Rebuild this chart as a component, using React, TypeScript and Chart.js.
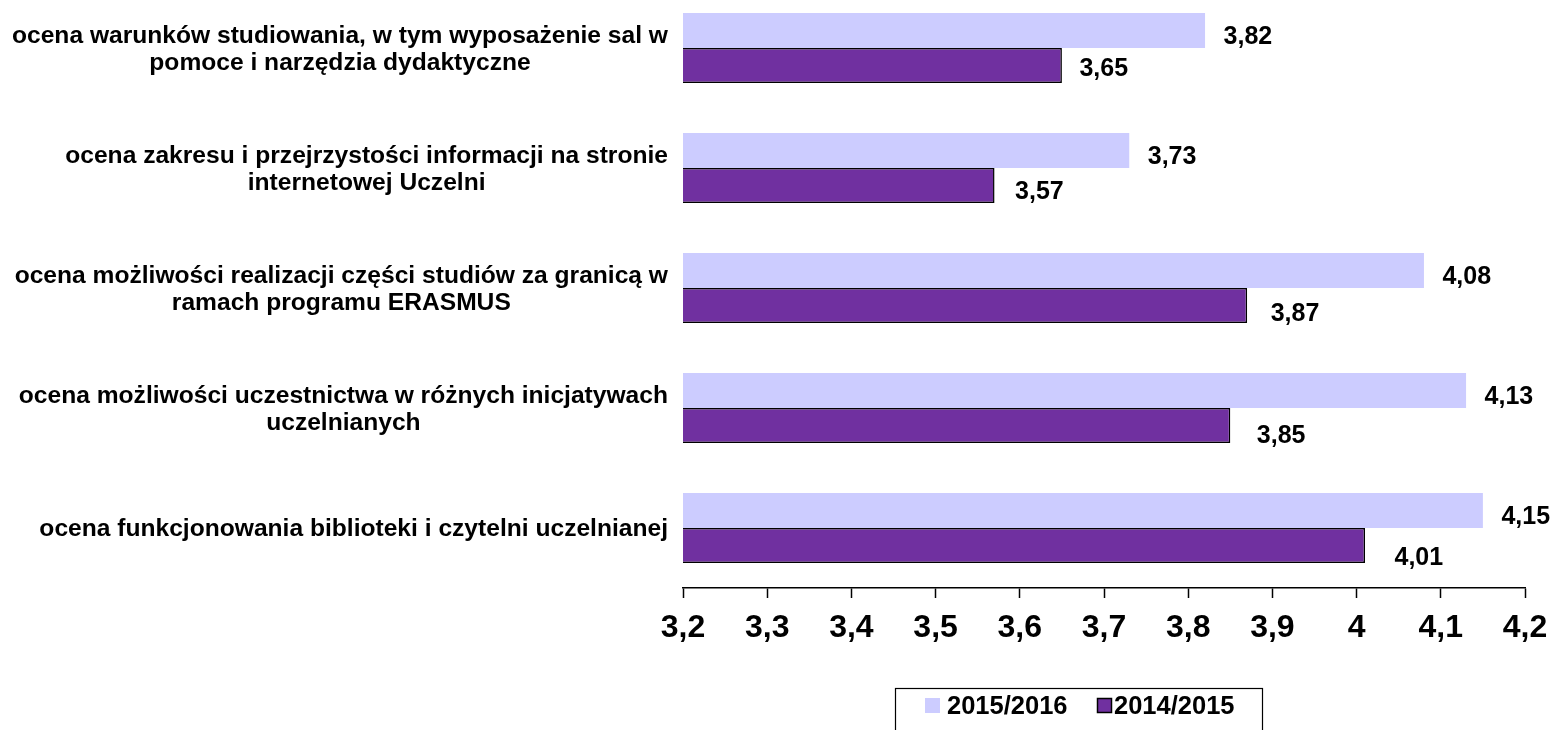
import React, { useEffect, useRef } from "react";
import { Chart, registerables } from "chart.js";

Chart.register(...registerables);

const categories: string[][] = [
  ["ocena warunków studiowania, w tym wyposażenie sal w", "pomoce i narzędzia dydaktyczne"],
  ["ocena zakresu i przejrzystości informacji na stronie", "internetowej Uczelni"],
  ["ocena możliwości realizacji części studiów za granicą w", "ramach programu ERASMUS"],
  ["ocena możliwości uczestnictwa w różnych inicjatywach", "uczelnianych"],
  ["ocena funkcjonowania biblioteki i czytelni uczelnianej"],
];
const seriesNames = ["2015/2016", "2014/2015"];
const values2016 = [3.82, 3.73, 4.08, 4.13, 4.15];
const values2015 = [3.65, 3.57, 3.87, 3.85, 4.01];
const axisMin = 3.2;
const axisMax = 4.2;
const axisStep = 0.1;

const FONT = '"Liberation Sans", Arial, sans-serif';
const SHIFT = 12; // canvas is shifted up by this many px
const CANVAS_W = 1600;
const LIGHT = "#CCCCFF";
const DARK = "#7030A0";

const fmt = (v: number, d: number) => {
  const r = Math.round(v * Math.pow(10, d)) / Math.pow(10, d);
  return String(r).replace(".", ",");
};

const decorPlugin = {
  id: "decor",
  afterDatasetsDraw(chart: any) {
    const ctx = chart.ctx;
    ctx.save();
    // category labels
    const yScale = chart.scales.y;
    ctx.font = `bold 24.6px ${FONT}`;
    ctx.fillStyle = "#000";
    ctx.textBaseline = "middle";
    ctx.textAlign = "center";
    const rightEdge = 668;
    const lh = 27;
    categories.forEach((lines, i) => {
      const yc = yScale.getPixelForValue(i) + 1.5;
      const w = Math.max(...lines.map((l) => ctx.measureText(l).width));
      const cx = rightEdge - w / 2;
      const n = lines.length;
      lines.forEach((line, j) => {
        ctx.fillText(line, cx, yc + (j - (n - 1) / 2) * lh);
      });
    });
    // data labels
    ctx.font = `bold 25px ${FONT}`;
    ctx.textAlign = "left";
    chart.data.datasets.forEach((ds: any, di: number) => {
      const meta = chart.getDatasetMeta(di);
      meta.data.forEach((bar: any, i: number) => {
        const dx = di === 0 ? 18.5 : 17.5 + 3 * i;
        const dy = di === 0 ? 7 : 4 + 2.2 * i;
        ctx.fillText(fmt(ds.data[i], 2), bar.x + dx, bar.y + dy);
      });
    });
    // legend
    const top = 688 + SHIFT;
    ctx.strokeStyle = "#000";
    ctx.lineWidth = 1.2;
    ctx.strokeRect(895.5, top + 0.5, 367, 80);
    ctx.font = `bold 25.5px ${FONT}`;
    const ty = 706 + SHIFT;
    const items = [
      { box: 925, text: 947, fill: LIGHT, border: false },
      { box: 1097, text: 1114, fill: DARK, border: true },
    ];
    items.forEach((it, k) => {
      ctx.fillStyle = it.fill;
      ctx.fillRect(it.box, ty - 8, 15, 15);
      if (it.border) {
        ctx.strokeStyle = "#000";
        ctx.lineWidth = 1.5;
        ctx.strokeRect(it.box + 0.5, ty - 7.5, 14, 14);
      }
      ctx.fillStyle = "#000";
      ctx.fillText(seriesNames[k], it.text, ty + 1);
    });
    ctx.restore();
  },
};

export default function App() {
  const ref = useRef<HTMLCanvasElement | null>(null);
  useEffect(() => {
    if (!ref.current) return;
    const chart = new Chart(ref.current, {
      type: "bar",
      data: {
        labels: categories.map((c) => c.join(" ")),
        datasets: [
          {
            label: seriesNames[0],
            data: values2016,
            backgroundColor: LIGHT,
            borderWidth: 0,
            categoryPercentage: 0.583,
            barPercentage: 1.0,
          },
          {
            label: seriesNames[1],
            data: values2015,
            backgroundColor: DARK,
            borderColor: "#000",
            borderWidth: 1.5,
            categoryPercentage: 0.583,
            barPercentage: 1.0,
          },
        ],
      },
      options: {
        indexAxis: "y",
        responsive: false,
        animation: false,
        layout: { padding: { left: 683, right: CANVAS_W - 1525, top: 0, bottom: 0 } },
        plugins: {
          legend: { display: false },
          tooltip: { enabled: false },
        },
        scales: {
          y: {
            display: false,
            offset: true,
          },
          x: {
            min: axisMin,
            max: axisMax,
            afterFit: (s: any) => {
              s.height = 142;
            },
            border: { display: true, color: "#000", width: 1.5 },
            grid: {
              display: true,
              drawOnChartArea: false,
              drawTicks: true,
              tickLength: 10,
              tickWidth: 1.5,
              tickColor: "#000",
            },
            ticks: {
              stepSize: axisStep,
              padding: 11,
              color: "#000",
              font: { family: FONT, size: 32, weight: "bold" },
              callback: (v: any) => fmt(Number(v), 1),
              maxRotation: 0,
              autoSkip: false,
            },
          },
        },
      },
      plugins: [decorPlugin],
    });
    return () => chart.destroy();
  }, []);
  return (
    <div
      style={{
        position: "absolute",
        left: 0,
        top: 0,
        width: 1552,
        height: 730,
        overflow: "hidden",
        background: "#fff",
      }}
    >
      <canvas
        ref={ref}
        width={CANVAS_W}
        height={730 + SHIFT}
        style={{ position: "absolute", left: 0, top: -SHIFT, width: CANVAS_W, height: 730 + SHIFT }}
      />
    </div>
  );
}
